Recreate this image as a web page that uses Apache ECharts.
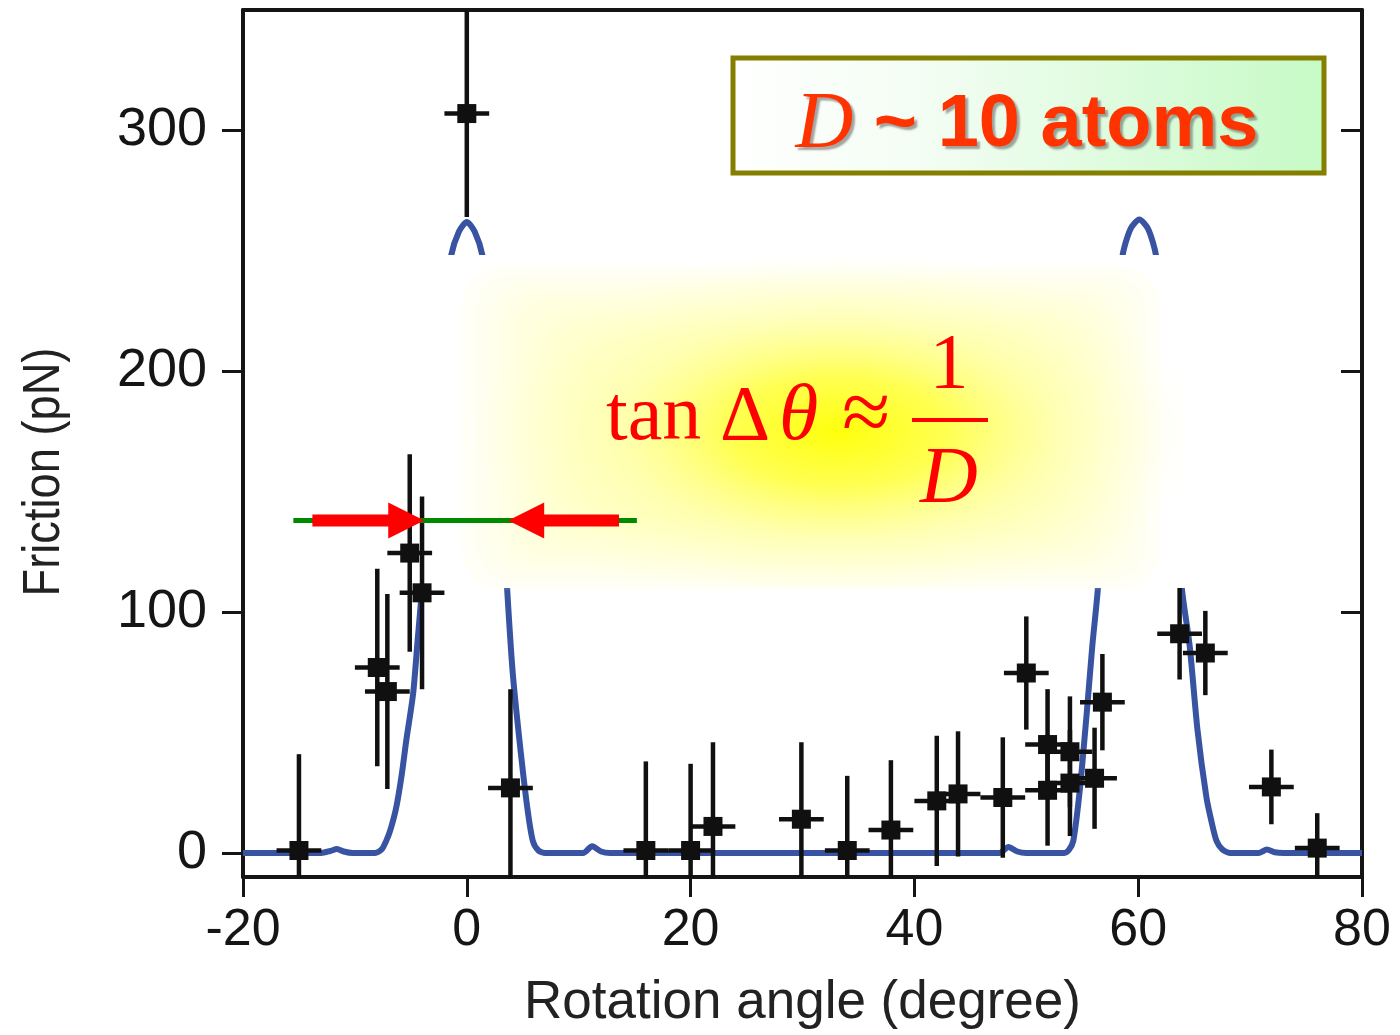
<!DOCTYPE html>
<html>
<head>
<meta charset="utf-8">
<script src="https://cdn.jsdelivr.net/npm/echarts@6/dist/echarts.min.js"></script>
<style>
html,body{margin:0;padding:0;background:#fff;}
#main{width:1400px;height:1035px;}
</style>
</head>
<body>
<div id="main"></div>
<script>
// ---- data ----
const angleX = [-15, -8.0, -7.1, -5.1, -4.0, 0, 3.9, 16, 20, 22, 29.9, 34, 37.9, 42, 43.9, 47.9, 50, 51.9, 51.9, 53.9, 53.9, 56.1, 56.8, 63.7, 66, 71.9, 76];
const friction = [1, 77, 67, 124.5, 108, 307, 27, 1, 1, 11, 14, 1, 9.5, 21.6, 24.5, 23, 74.7, 45, 26, 42, 29, 31, 62.6, 91, 83, 27.4, 2];
const frictionErr = [40, 41, 40.5, 41, 40, 43, 41, 37, 36, 35, 32, 31, 29, 27, 26, 25, 23.5, 23, 23, 23, 22, 21, 20, 19, 17.5, 15.5, 14.5];
const angleErr = [2, 2, 2, 2, 2, 2, 2, 2, 2, 2, 2, 2, 2, 2, 2, 2, 2, 2, 2, 2, 2, 2, 2, 2, 2, 2, 2];

const curveX = [-20, -13, -12.2, -11.6, -11, -10.2, -8.2, -7.6, -7.2, -6.8, -6.3, -5.8, -5.4, -4.8, -4.4, -4.0, -3.2, -2.2, -1.4, -0.7, 0, 0.7, 1.4, 2.2, 3.0, 3.6, 4.1, 4.7, 5.4, 5.9, 6.4, 7.0, 10.4, 11.2, 12.0, 12.8, 47.6, 48.4, 49.2, 50.0, 53.4, 53.8, 54.2, 54.8, 55.4, 55.9, 56.4, 57.2, 58.0, 58.6, 59.3, 60.1, 60.9, 61.6, 62.3, 63.1, 63.9, 64.6, 65.3, 66.1, 66.6, 67.0, 67.5, 68.2, 70.8, 71.5, 72.2, 73, 80];
const curveY = [0, 0, 0.8, 1.6, 0.6, 0, 0, 1.5, 5, 10, 19, 33, 47, 66, 88, 110, 165, 220, 248, 258, 262, 258, 248, 220, 160, 110, 75, 47, 19, 5, 1, 0, 0, 2.8, 0.6, 0, 0, 2.5, 0.6, 0, 0, 1.2, 5, 27, 58, 86, 110, 170, 220, 248, 259, 263, 259, 248, 220, 165, 110, 86, 51, 23, 12, 5, 1.5, 0, 0, 1.4, 0.3, 0, 0];

const xTicks = [-20, 0, 20, 40, 60, 80];
const yTicks = [0, 100, 200, 300];

// annotation (data coordinates)
const widthLevel = 138;
const greenFrom = -15.5, greenTo = 15.2;
const leftArrow = [-13.8, -3.8];   // tail, tip
const rightArrow = [13.6, 3.7];    // tail, tip

const X_MIN = -20, X_MAX = 80, Y_MIN = -10, Y_MAX = 350;

const pointData = angleX.map((x, i) => [x, friction[i], angleErr[i], frictionErr[i]]);
const curveData = curveX.map((x, i) => [x, curveY[i]]);

const chart = echarts.init(document.getElementById('main'), null, {renderer: 'canvas'});
const AX = '#151515';
const FONT = '"Liberation Sans", Arial, sans-serif';

const option = {
  animation: false,
  backgroundColor: '#ffffff',
  grid: {left: 243, right: 38, top: 10, bottom: 157, containLabel: false},
  xAxis: [{
    type: 'value', min: X_MIN, max: X_MAX, interval: 20, position: 'bottom',
    axisLine: {show: true, onZero: false, lineStyle: {color: AX, width: 4}},
    axisTick: {show: true, inside: false, length: 20, lineStyle: {color: AX, width: 3}},
    axisLabel: {show: true, margin: 28, fontSize: 52, color: AX, fontFamily: FONT,
      customValues: xTicks},
    splitLine: {show: false},
    name: 'Rotation angle (degree)', nameLocation: 'middle', nameGap: 100,
    nameTextStyle: {fontSize: 53, color: '#222', fontFamily: FONT}
  }, {
    type: 'value', min: X_MIN, max: X_MAX, interval: 20, position: 'top',
    axisLine: {show: true, onZero: false, lineStyle: {color: AX, width: 4}},
    axisTick: {show: false}, axisLabel: {show: false}, splitLine: {show: false}
  }],
  yAxis: [{
    type: 'value', min: Y_MIN, max: Y_MAX, position: 'left',
    axisLine: {show: true, onZero: false, lineStyle: {color: AX, width: 4}},
    axisTick: {show: true, inside: false, length: 21, lineStyle: {color: AX, width: 3}, customValues: yTicks},
    axisLabel: {show: true, margin: 36, fontSize: 54, color: AX, fontFamily: FONT, customValues: yTicks},
    splitLine: {show: false}
  }, {
    type: 'value', min: Y_MIN, max: Y_MAX, position: 'right',
    axisLine: {show: true, onZero: false, lineStyle: {color: AX, width: 4}},
    axisTick: {show: true, inside: true, length: 21, lineStyle: {color: AX, width: 3}, customValues: [100, 200, 300]},
    axisLabel: {show: false}, splitLine: {show: false}
  }],
  series: [{
    type: 'line', name: 'model', data: curveData, z: 2,
    showSymbol: false, smooth: 0.25, clip: true,
    lineStyle: {color: '#3853a2', width: 6}
  }, {
    type: 'custom', name: 'errors', data: pointData, z: 10, clip: true,
    renderItem: function (params, api) {
      const x = api.value(0), y = api.value(1), dx = api.value(2), dy = api.value(3);
      const yTop = Math.min(y + dy, Y_MAX), yBot = Math.max(y - dy, Y_MIN);
      const pTop = api.coord([x, yTop]), pBot = api.coord([x, yBot]);
      const pL = api.coord([Math.max(x - dx, X_MIN), y]), pR = api.coord([Math.min(x + dx, X_MAX), y]);
      const st = {stroke: '#101010', lineWidth: 4.5};
      return {type: 'group', children: [
        {type: 'line', shape: {x1: pTop[0], y1: pTop[1], x2: pBot[0], y2: pBot[1]}, style: st},
        {type: 'line', shape: {x1: pL[0], y1: pL[1], x2: pR[0], y2: pR[1]}, style: st}
      ]};
    }
  }, {
    type: 'scatter', name: 'data', z: 11,
    data: pointData.map(d => [d[0], d[1]]),
    symbol: 'rect', symbolSize: 19,
    itemStyle: {color: '#101010', opacity: 1}
  }]
};
chart.setOption(option);

function px(x, y) { return chart.convertToPixel({gridIndex: 0}, [x, y]); }

const gL = px(greenFrom, widthLevel), gR = px(greenTo, widthLevel);
const la0 = px(leftArrow[0], widthLevel), la1 = px(leftArrow[1], widthLevel);
const ra0 = px(rightArrow[0], widthLevel), ra1 = px(rightArrow[1], widthLevel);
const ay = gL[1];
const headL = 36, headH = 18, shaftH = 6;

const glowX = 418, glowY = 255, glowH = 333, glowW = 768, glowS = 2;
const serif = '"Liberation Serif", "Times New Roman", serif';
const red = '#ff0000';
const fs = 78;
const fy = 458; // bottom of main formula line

// soft pale glow made of stacked translucent plates
const plates = [];
for (let k = 0; k < 10; k++) {
  plates.push({type: 'rect', z: 6, z2: k,
    shape: {x: 462 + k * 13, y: 266 + k * 8, width: (1160 - 462) - 2 * k * 13, height: (590 - 266) - 2 * k * 8, r: 40},
    style: {fill: 'rgba(255,255,175,0.09)'}});
}

chart.setOption({
  graphic: [
    // white box hiding the middle of the curve
    {type: 'rect', z: 5, shape: {x: glowX, y: glowY, width: glowW, height: glowH}, style: {fill: '#ffffff'}}
  ].concat(plates).concat([
    // bright yellow centre
    {type: 'rect', z: 7, x: glowX, y: glowY, scaleX: glowS, scaleY: 1,
      shape: {x: 0, y: 0, width: glowW / glowS, height: glowH},
      style: {fill: {type: 'radial', x: 0.547, y: 0.53, r: 0.55, colorStops: [
        {offset: 0, color: 'rgba(255,255,0,0.95)'}, {offset: 0.3, color: 'rgba(255,255,30,0.7)'},
        {offset: 0.6, color: 'rgba(255,255,110,0.3)'}, {offset: 1, color: 'rgba(255,255,200,0)'}]}}},
    // green width line
    {type: 'line', z: 20, shape: {x1: gL[0], y1: ay, x2: gR[0], y2: ay}, style: {stroke: '#008a00', lineWidth: 5}},
    // left arrow
    {type: 'rect', z: 21, shape: {x: la0[0], y: ay - shaftH, width: (la1[0] - headL) - la0[0] + 2, height: shaftH * 2}, style: {fill: red}},
    {type: 'polygon', z: 21, shape: {points: [[la1[0] - headL, ay - headH], [la1[0], ay], [la1[0] - headL, ay + headH]]}, style: {fill: red}},
    // right arrow
    {type: 'rect', z: 21, shape: {x: ra1[0] + headL - 2, y: ay - shaftH, width: ra0[0] - (ra1[0] + headL) + 2, height: shaftH * 2}, style: {fill: red}},
    {type: 'polygon', z: 21, shape: {points: [[ra1[0] + headL, ay - headH], [ra1[0], ay], [ra1[0] + headL, ay + headH]]}, style: {fill: red}},
    // formula
    {type: 'text', z: 22, x: 606, y: fy, style: {text: 'tan', font: fs + 'px ' + serif, fill: red, verticalAlign: 'bottom', align: 'left'}},
    {type: 'text', z: 22, x: 720, y: fy, style: {text: 'Δ', font: fs + 'px ' + serif, fill: red, verticalAlign: 'bottom', align: 'left'}},
    {type: 'text', z: 22, x: 779, y: fy, style: {text: 'θ', font: 'italic ' + (fs + 2) + 'px ' + serif, fill: red, verticalAlign: 'bottom', align: 'left'}},
    {type: 'text', z: 22, x: 842, y: fy + 4, style: {text: '≈', font: (fs + 10) + 'px ' + serif, fill: red, verticalAlign: 'bottom', align: 'left'}},
    {type: 'text', z: 22, x: 949, y: 406, style: {text: '1', font: fs + 'px ' + serif, fill: red, verticalAlign: 'bottom', align: 'center'}},
    {type: 'rect', z: 22, shape: {x: 912, y: 418, width: 76, height: 4}, style: {fill: red}},
    {type: 'text', z: 22, x: 949, y: 521, style: {text: 'D', font: 'italic ' + (fs + 2) + 'px ' + serif, fill: red, verticalAlign: 'bottom', align: 'center'}},
    // D ~ 10 atoms box
    {type: 'rect', z: 30, shape: {x: 733, y: 58, width: 591, height: 115},
      style: {stroke: '#857f00', lineWidth: 5, fill: {type: 'linear', x: 0, y: 0, x2: 1, y2: 0, colorStops: [
        {offset: 0, color: '#ffffff'}, {offset: 0.35, color: '#f2fdf2'}, {offset: 1, color: '#c6fac6'}]}}},
    {type: 'text', z: 31, x: 1027, y: 126, style: {
      text: '{d|D}{t| ~ 10 atoms}', align: 'center', verticalAlign: 'middle',
      rich: {
        d: {fontFamily: serif, fontStyle: 'italic', fontSize: 80, fill: '#ff3300', textShadowColor: 'rgba(90,90,90,0.55)', textShadowOffsetX: 3, textShadowOffsetY: 3, textShadowBlur: 2},
        t: {fontFamily: FONT, fontWeight: 'bold', fontSize: 74, fill: '#ff3300', textShadowColor: 'rgba(90,90,90,0.55)', textShadowOffsetX: 3, textShadowOffsetY: 3, textShadowBlur: 2}
      }}},
    // y axis title (slightly condensed, as in the reference)
    {type: 'text', z: 30, x: 45, y: 472, rotation: Math.PI / 2, scaleX: 0.87,
      style: {text: 'Friction (pN)', font: '52px ' + FONT, fill: '#222', align: 'center', verticalAlign: 'middle'}}
  ])
});
</script>
</body>
</html>
